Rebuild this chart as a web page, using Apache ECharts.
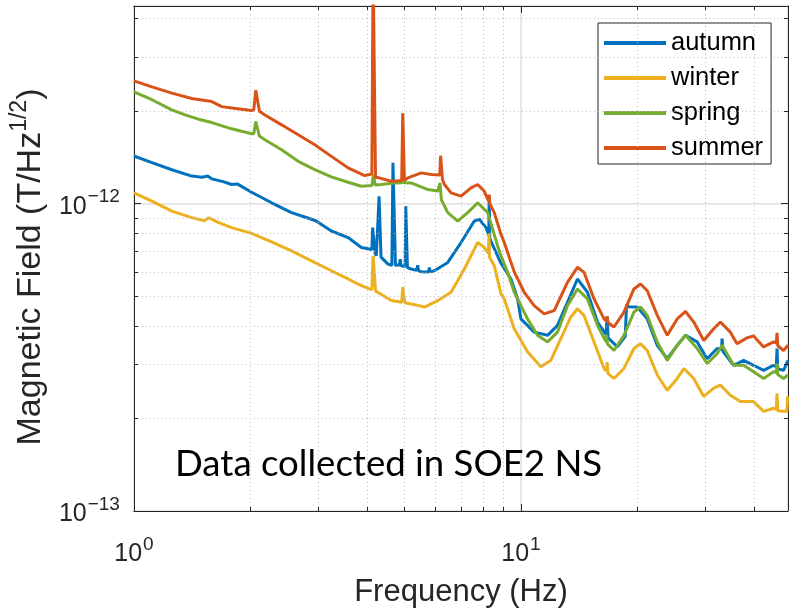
<!DOCTYPE html>
<html>
<head>
<meta charset="utf-8">
<script src="https://cdn.jsdelivr.net/npm/echarts@6/dist/echarts.min.js"></script>
<style>html,body{margin:0;padding:0;background:#fff}#c{width:794px;height:613px}</style>
</head>
<body>
<div id="c"></div>
<script>
// Frequency in Hz, magnetic field in units of 1e-12 T/Hz^1/2
const autumn = [[1.0,1.43],[1.113,1.36],[1.253,1.29],[1.411,1.23],[1.5,1.22],[1.55,1.23],[1.589,1.205],[1.7,1.18],[1.789,1.155],[1.85,1.16],[2.014,1.09],[2.269,1.007],[2.554,0.935],[2.8,0.9],[2.876,0.89],[2.95,0.88],[3.238,0.815],[3.576,0.776],[3.869,0.72],[4.12,0.71],[4.14,0.836],[4.17,0.836],[4.2,0.69],[4.23,0.677],[4.28,0.675],[4.3,1.058],[4.33,1.058],[4.35,0.67],[4.534,0.636],[4.64,0.63],[4.67,1.358],[4.71,1.358],[4.74,0.63],[4.85,0.632],[4.88,0.66],[4.9,0.628],[5.02,0.625],[5.04,0.982],[5.07,0.982],[5.09,0.62],[5.206,0.613],[5.38,0.607],[5.41,0.63],[5.44,0.605],[5.524,0.601],[5.77,0.6],[5.8,0.62],[5.83,0.6],[5.977,0.605],[6.472,0.644],[7.003,0.748],[7.578,0.878],[7.806,0.89],[8.124,0.836],[8.26,0.79],[8.28,1.06],[8.31,0.77],[8.369,0.766],[8.882,0.64],[9.424,0.569],[9.806,0.49],[10.0,0.422],[10.82,0.382],[11.72,0.373],[12.43,0.402],[13.19,0.478],[14.0,0.569],[14.86,0.515],[15.77,0.412],[16.6,0.375],[16.7,0.43],[16.8,0.366],[17.75,0.342],[18.6,0.37],[18.75,0.47],[19.0,0.462],[19.99,0.461],[21.21,0.422],[22.51,0.346],[23.89,0.313],[25.35,0.346],[26.63,0.373],[28.54,0.355],[30.29,0.313],[32.14,0.338],[33.0,0.335],[33.1,0.364],[33.3,0.33],[35.46,0.298],[37.63,0.309],[39.92,0.298],[42.38,0.287],[44.97,0.298],[45.7,0.295],[45.9,0.338],[46.1,0.29],[47.72,0.287],[49,0.309]];
const winter = [[1.0,1.085],[1.113,1.02],[1.253,0.946],[1.411,0.901],[1.52,0.88],[1.56,0.9],[1.589,0.89],[1.65,0.87],[1.789,0.836],[2.014,0.801],[2.269,0.751],[2.554,0.702],[2.876,0.652],[3.238,0.605],[3.576,0.569],[3.869,0.541],[4.07,0.528],[4.12,0.526],[4.15,0.677],[4.18,0.677],[4.21,0.52],[4.23,0.521],[4.624,0.484],[4.92,0.478],[4.95,0.535],[4.98,0.535],[5.01,0.476],[5.206,0.472],[5.634,0.461],[6.099,0.484],[6.6,0.515],[7.141,0.613],[7.733,0.748],[8.042,0.72],[8.24,0.69],[8.27,0.8],[8.3,0.67],[8.535,0.628],[8.882,0.509],[9.057,0.49],[9.61,0.392],[10.4,0.33],[11.26,0.295],[11.95,0.309],[12.68,0.364],[13.46,0.428],[14.0,0.455],[14.56,0.433],[15.45,0.355],[16.4,0.291],[16.65,0.285],[16.7,0.305],[16.8,0.28],[17.4,0.27],[18.46,0.291],[19.59,0.338],[20.38,0.35],[21.21,0.333],[22.51,0.277],[23.89,0.247],[25.35,0.27],[26.37,0.291],[27.97,0.27],[29.68,0.236],[31.49,0.251],[32.77,0.257],[34.77,0.238],[36.9,0.227],[39.92,0.227],[42.38,0.211],[44.97,0.216],[45.7,0.214],[45.9,0.241],[46.1,0.212],[47.72,0.211],[48.7,0.211],[48.9,0.236],[49,0.236]];
const spring = [[1.0,2.31],[1.113,2.18],[1.253,2.02],[1.356,1.945],[1.468,1.884],[1.589,1.837],[1.789,1.753],[2.014,1.689],[2.04,1.69],[2.065,1.85],[2.085,1.85],[2.11,1.66],[2.18,1.615],[2.407,1.499],[2.658,1.374],[2.933,1.291],[3.238,1.223],[3.576,1.175],[3.869,1.14],[4.12,1.146],[4.16,1.244],[4.2,1.15],[4.358,1.155],[4.716,1.169],[4.93,1.17],[4.96,1.2],[4.99,1.17],[5.206,1.169],[5.748,1.112],[6.1,1.1],[6.18,1.17],[6.23,1.03],[6.472,0.935],[6.867,0.878],[7.287,0.935],[7.733,1.007],[8.207,0.935],[8.707,0.729],[8.882,0.677],[9.241,0.598],[9.61,0.515],[9.806,0.49],[10.4,0.422],[11.04,0.373],[11.72,0.355],[12.43,0.382],[13.19,0.466],[14.0,0.528],[14.86,0.49],[15.77,0.402],[16.6,0.355],[16.65,0.375],[16.73,0.35],[17.4,0.333],[18.46,0.373],[19.59,0.444],[20.38,0.461],[21.21,0.433],[22.51,0.355],[23.89,0.309],[25.35,0.346],[26.63,0.373],[28.54,0.338],[30.29,0.302],[32.14,0.325],[33.1,0.346],[35.46,0.298],[37.63,0.298],[39.92,0.284],[42.38,0.27],[44.97,0.284],[45.7,0.282],[45.9,0.302],[46.1,0.278],[47.72,0.27],[49,0.277]];
const summer = [[1.0,2.51],[1.113,2.4],[1.253,2.29],[1.411,2.2],[1.589,2.15],[1.686,2.07],[1.789,2.05],[2.014,2.01],[2.04,2.02],[2.065,2.34],[2.085,2.34],[2.11,2.0],[2.18,1.945],[2.407,1.806],[2.658,1.676],[2.933,1.556],[3.238,1.426],[3.576,1.308],[3.946,1.235],[4.058,1.244],[4.12,1.25],[4.15,6.0],[4.18,6.0],[4.21,1.22],[4.3,1.214],[4.624,1.183],[4.92,1.19],[4.95,1.97],[4.97,1.97],[5.0,1.19],[5.105,1.214],[5.524,1.26],[5.861,1.244],[6.17,1.24],[6.2,1.433],[6.24,1.433],[6.27,1.2],[6.344,1.155],[6.6,1.085],[7.003,1.058],[7.431,1.126],[7.733,1.155],[8.042,1.098],[8.25,1.02],[8.28,1.07],[8.31,1.0],[8.535,0.935],[8.882,0.795],[9.057,0.748],[9.61,0.6],[10.2,0.515],[10.82,0.466],[11.48,0.438],[12.19,0.449],[13.19,0.555],[14.0,0.621],[14.56,0.598],[15.45,0.49],[16.4,0.422],[16.65,0.415],[16.7,0.43],[16.8,0.41],[17.4,0.397],[18.46,0.444],[19.59,0.528],[20.38,0.548],[21.21,0.521],[22.51,0.433],[23.89,0.373],[25.35,0.422],[26.63,0.446],[27.97,0.412],[29.68,0.359],[31.49,0.392],[32.77,0.412],[34.77,0.382],[36.18,0.35],[38.38,0.366],[39.92,0.371],[42.38,0.342],[44.97,0.355],[45.7,0.352],[45.9,0.38],[46.1,0.345],[47.72,0.333],[49,0.346]];

const seriesNames = ['autumn', 'winter', 'spring', 'summer'];
const seriesColors = ['#0072BD', '#EDB120', '#77AC30', '#D95319'];
const seriesData = [autumn, winter, spring, summer];

// axis ranges and tick positions
const X_MIN = 1, X_MAX = 49;
const Y_MIN = 0.1, Y_MAX = 4.4;   // 1e-13 .. 4.4e-12 T/Hz^1/2
const xMinorTicks = [2, 3, 4, 5, 6, 7, 8, 9, 20, 30, 40];
const yMinorTicks = [0.2, 0.3, 0.4, 0.5, 0.6, 0.7, 0.8, 0.9, 2, 3, 4];

const FONT = '"Liberation Sans", Arial, Helvetica, sans-serif';
const AX = '#262626';

function expLabel(v, offset) {
  const e = Math.log10(v);
  const r = Math.round(e);
  if (Math.abs(e - r) > 1e-6) return '';
  const p = r + offset;
  return '{b|10}{s|' + (p < 0 ? '\u2212' + (-p) : p) + '}';
}
const labelRich = {
  b: { fontSize: 25, fontFamily: FONT, color: AX, verticalAlign: 'bottom' },
  s: { fontSize: 19, fontFamily: FONT, color: AX, verticalAlign: 'bottom', padding: [0, 0, 13, 1] }
};

// short minor tick marks along the box (4 px long)
const kx = Math.pow(10, 4 / 388), ky = Math.pow(10, 4 / 308.5);
const minorTickSegs = [];
yMinorTicks.forEach(v => {
  minorTickSegs.push([{ coord: [X_MIN, v] }, { coord: [X_MIN * kx, v] }]);
  minorTickSegs.push([{ coord: [X_MAX / kx, v] }, { coord: [X_MAX, v] }]);
});
xMinorTicks.forEach(v => {
  minorTickSegs.push([{ coord: [v, Y_MIN] }, { coord: [v, Y_MIN * ky] }]);
  minorTickSegs.push([{ coord: [v, Y_MAX / ky] }, { coord: [v, Y_MAX] }]);
});
const minorGrid = xMinorTicks.map(v => ({ xAxis: v })).concat(yMinorTicks.map(v => ({ yAxis: v })));

const series = [
  {
    name: 'minorGrid', type: 'line', data: [], silent: true, z: 1,
    markLine: { silent: true, symbol: 'none', label: { show: false }, animation: false,
      lineStyle: { type: [1, 3], color: '#bdbdbd', width: 1 }, data: minorGrid }
  },
  {
    name: 'minorTicks', type: 'line', data: [], silent: true, z: 10,
    markLine: { silent: true, symbol: 'none', label: { show: false }, animation: false,
      lineStyle: { type: 'solid', color: AX, width: 1 }, data: minorTickSegs }
  }
].concat(seriesNames.map((n, i) => ({
  name: n, type: 'line', data: seriesData[i], showSymbol: false, symbol: 'none',
  clip: true, z: 3 + i,
  lineStyle: { width: 3, color: seriesColors[i] },
  itemStyle: { color: seriesColors[i] }
})));

const chart = echarts.init(document.getElementById('c'), null, { renderer: 'canvas' });
chart.setOption({
  animation: false,
  backgroundColor: '#fff',
  grid: { left: 132, right: 6, top: 6, bottom: 100, containLabel: false },
  legend: {
    data: seriesNames, orient: 'vertical', left: 598, top: 23,
    icon: 'rect', itemWidth: 62, itemHeight: 4, itemGap: 9,
    padding: [7, 8, 3, 6], borderColor: AX, borderWidth: 1, backgroundColor: '#fff',
    textStyle: { fontFamily: FONT, fontSize: 25.5, color: '#000', lineHeight: 25 },
    selectedMode: false
  },
  xAxis: [
    {
      type: 'log', logBase: 10, min: X_MIN, max: X_MAX, position: 'bottom',
      name: 'Frequency (Hz)', nameLocation: 'middle', nameGap: 66,
      nameTextStyle: { fontFamily: FONT, fontSize: 31, color: AX },
      axisLine: { show: true, lineStyle: { color: AX, width: 1 } },
      axisTick: { show: true, inside: true, length: 7, lineStyle: { color: AX } },
      axisLabel: { formatter: v => expLabel(v, 0), margin: 24, fontSize: 25, fontFamily: FONT, color: AX, rich: labelRich },
      splitLine: { show: true, lineStyle: { color: '#dedede', width: 1.5 } }
    },
    {
      type: 'log', logBase: 10, min: X_MIN, max: X_MAX, position: 'top',
      axisLine: { show: true, lineStyle: { color: AX, width: 1 } },
      axisTick: { show: true, inside: true, length: 7, lineStyle: { color: AX } },
      axisLabel: { show: false }, splitLine: { show: false }
    }
  ],
  yAxis: [
    {
      type: 'log', logBase: 10, min: Y_MIN, max: Y_MAX, position: 'left',
      name: '{m|Magnetic Field (T/Hz}{sup|1/2}{m|)}', nameLocation: 'middle', nameGap: 80,
      nameTextStyle: { fontFamily: FONT, fontSize: 34, color: AX, padding: [0, 17, 0, 0],
        rich: {
          m: { fontFamily: FONT, fontSize: 34, color: AX, verticalAlign: 'bottom' },
          sup: { fontFamily: FONT, fontSize: 23, color: AX, verticalAlign: 'bottom', padding: [0, 0, 17, 0] }
        } },
      axisLine: { show: true, lineStyle: { color: AX, width: 1 } },
      axisTick: { show: true, inside: true, length: 7, lineStyle: { color: AX } },
      axisLabel: { formatter: v => expLabel(v, -12), margin: 14, fontSize: 25, fontFamily: FONT, color: AX, rich: labelRich },
      splitLine: { show: true, lineStyle: { color: '#dedede', width: 1.5 } }
    },
    {
      type: 'log', logBase: 10, min: Y_MIN, max: Y_MAX, position: 'right',
      axisLine: { show: true, lineStyle: { color: AX, width: 1 } },
      axisTick: { show: true, inside: true, length: 7, lineStyle: { color: AX } },
      axisLabel: { show: false }, splitLine: { show: false }
    }
  ],
  graphic: [
    {
      type: 'text', x: 175, y: 464, z: 20,
      style: { text: 'Data collected in SOE2 NS', font: '36.6px Lato, "Open Sans", sans-serif',
        fill: '#000', verticalAlign: 'middle', align: 'left' }
    }
  ],
  series: series
});
</script>
</body>
</html>
